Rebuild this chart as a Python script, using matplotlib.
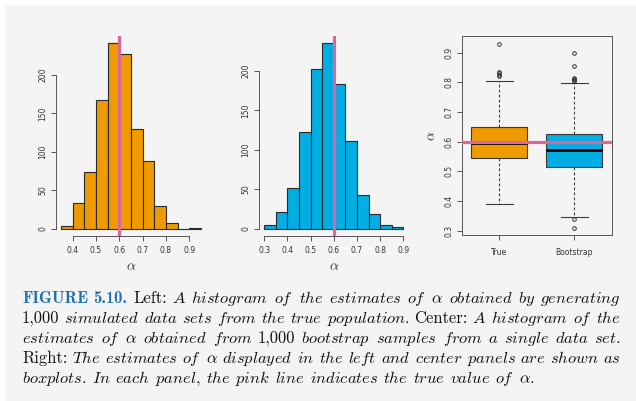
import numpy as np
import matplotlib
matplotlib.use("Agg")
import matplotlib.pyplot as plt
from matplotlib.patches import Rectangle
from matplotlib.transforms import IdentityTransform

plt.rcParams['mathtext.fontset'] = 'cm'

# histogram counts
true_edges = [0.35, 0.40, 0.45, 0.50, 0.55, 0.60, 0.65, 0.70, 0.75, 0.80, 0.85, 0.90, 0.95]
true_counts = [3, 33, 74, 168, 241, 227, 129, 88, 29, 7, 0, 1]
boot_edges = [0.30, 0.35, 0.40, 0.45, 0.50, 0.55, 0.60, 0.65, 0.70, 0.75, 0.80, 0.85, 0.90]
boot_counts = [5, 21, 51, 123, 203, 235, 184, 111, 43, 18, 4, 2]

# boxplot summaries
box_labels = ["True", "Bootstrap"]
box_q1 = [0.545, 0.515]
box_med = [0.596, 0.572]
box_q3 = [0.651, 0.627]
box_lo = [0.390, 0.346]
box_hi = [0.806, 0.799]
true_fliers = [0.822, 0.826, 0.830, 0.834, 0.929]
boot_fliers = [0.310, 0.339, 0.805, 0.809, 0.812, 0.815, 0.856, 0.898]

true_alpha = 0.6

orange = '#EE9A00'
blue = '#02aee3'
pink = '#d9679f'
axcol = '#555555'
txtcol = '#333333'

W, H = 636, 401
fig = plt.figure(figsize=(W / 100, H / 100), dpi=100, facecolor='white')
fig.patches.append(Rectangle((5 / W, 0), 1, 395 / H, transform=fig.transFigure,
                             color='#f4f4f4', zorder=-10))


def px_axes(x0, y0, x1, y1):
    # pixel box (from top-left) -> axes
    return fig.add_axes([x0 / W, (H - y1) / H, (x1 - x0) / W, (y1 - y0) / H])


def style_ticks(ax):
    ax.set_facecolor('none')
    ax.tick_params(length=3.5, width=0.7, color=axcol, labelcolor=txtcol, labelsize=5.5, pad=2.5)
    ax.tick_params(axis='y', labelrotation=90)
    for lab in ax.get_yticklabels():
        lab.set_va('center')
    for sp in ax.spines.values():
        sp.set_color(axcol)
        sp.set_linewidth(0.7)


def hist_panel(ax, edges, counts, col, xt, top):
    edges = np.array(edges)
    ax.bar(edges[:-1], counts, width=np.diff(edges), align='edge', color=col,
           edgecolor='#2a2a2a', linewidth=0.8)
    ax.axvline(true_alpha, color=pink, lw=2.3, zorder=5)
    lo, hi = edges[0], edges[-1]
    pad = 0.04 * (hi - lo)
    ax.set_xlim(lo - pad, hi + pad)
    ax.set_ylim(-0.04 * top, top * 1.04)
    ax.spines[['top', 'right']].set_visible(False)
    ax.spines['left'].set_bounds(0, 200)
    ax.spines['bottom'].set_bounds(xt[0], xt[-1])
    ax.set_yticks([0, 50, 100, 150, 200])
    ax.set_xticks(xt)
    ax.set_xticklabels([f"{v:.1f}" for v in xt])
    style_ticks(ax)
    ax.tick_params(axis='x', pad=4)
    ax.set_xlabel(r'$\alpha$', fontsize=10, color=txtcol, labelpad=3)


ax1 = px_axes(55.5, 36, 206.5, 236)
hist_panel(ax1, true_edges, true_counts, orange, [0.4, 0.5, 0.6, 0.7, 0.8, 0.9], max(true_counts))

ax2 = px_axes(258.7, 36, 409, 236)
hist_panel(ax2, boot_edges, boot_counts, blue, [0.3, 0.4, 0.5, 0.6, 0.7, 0.8, 0.9], max(boot_counts))

ax3 = px_axes(461.7, 36, 611.7, 235)
stats = []
for i, lab in enumerate(box_labels):
    stats.append(dict(label=lab, q1=box_q1[i], med=box_med[i], q3=box_q3[i],
                      whislo=box_lo[i], whishi=box_hi[i],
                      fliers=[true_fliers, boot_fliers][i]))
bp = ax3.bxp(stats, positions=[1, 2], widths=0.75, capwidths=0.36, patch_artist=True,
             boxprops=dict(edgecolor='#3a3a3a', linewidth=0.8),
             whiskerprops=dict(color='#3a3a3a', linewidth=0.8, linestyle=(0, (2.5, 2))),
             capprops=dict(color='#3a3a3a', linewidth=0.8),
             medianprops=dict(color='black', linewidth=2),
             flierprops=dict(marker='o', markersize=2.6, markerfacecolor='none',
                             markeredgecolor='#333333', markeredgewidth=0.7))
for patch, col in zip(bp['boxes'], [orange, blue]):
    patch.set_facecolor(col)
ax3.axhline(true_alpha, color=pink, lw=2.3, zorder=5)
ax3.set_xlim(0.5, 2.5)
ax3.set_ylim(0.2855, 0.956)
ax3.set_yticks([0.3, 0.4, 0.5, 0.6, 0.7, 0.8, 0.9])
ax3.set_yticklabels([f"{v:.1f}" for v in [0.3, 0.4, 0.5, 0.6, 0.7, 0.8, 0.9]])
style_ticks(ax3)
ax3.tick_params(axis='x', pad=6)
ax3.set_ylabel(r'$\alpha$', fontsize=10, color=txtcol, labelpad=4)

# caption, justified line by line
fs = 11.9
caption = [
    [("FIGURE 5.10.", 'bf'), ("Left:", 'rm'), ("A histogram of the estimates of", 'it'),
     (r"$\alpha$", 'm'), ("obtained by generating", 'it')],
    [("1,000", 'rm'), ("simulated data sets from the true population.", 'it'), ("Center:", 'rm'),
     ("A histogram of the", 'it')],
    [("estimates of", 'it'), (r"$\alpha$", 'm'), ("obtained from", 'it'), ("1,000", 'rm'),
     ("bootstrap samples from a single data set.", 'it')],
    [("Right:", 'rm'), ("The estimates of", 'it'), (r"$\alpha$", 'm'),
     ("displayed in the left and center panels are shown as", 'it')],
    [("boxplots. In each panel, the pink line indicates the true value of", 'it'), (r"$\alpha.$", 'm')],
]
baselines = [303, 323, 343, 363, 383]
x_left, x_right = 22, 621

renderer = fig.canvas.get_renderer()
for li, line in enumerate(caption):
    words = []
    for text, st in line:
        if st == 'm':
            words.append((text, st))
        else:
            words += [(w, st) for w in text.split()]
    arts = []
    for w, st in words:
        kw = dict(fontsize=fs, color='#111111', transform=IdentityTransform(), va='baseline')
        if st == 'bf':
            t = fig.text(0, 0, w, family='cmb10', **dict(kw, color='#1f70b0'))
        elif st == 'rm':
            t = fig.text(0, 0, w, family='cmr10', **kw)
        elif st == 'it':
            t = fig.text(0, 0, r'$\mathit{' + w + '}$', **kw)
        else:
            t = fig.text(0, 0, w, **kw)
        arts.append(t)
    widths = [a.get_window_extent(renderer).width for a in arts]
    if li < len(caption) - 1:
        gap = (x_right - x_left - sum(widths)) / (len(arts) - 1)
    else:
        gap = fs * 0.42
    x = x_left
    y = H - baselines[li]
    for a, w in zip(arts, widths):
        a.set_position((x, y))
        x += w + gap

fig.savefig('out.png', dpi=100, facecolor=fig.get_facecolor())
